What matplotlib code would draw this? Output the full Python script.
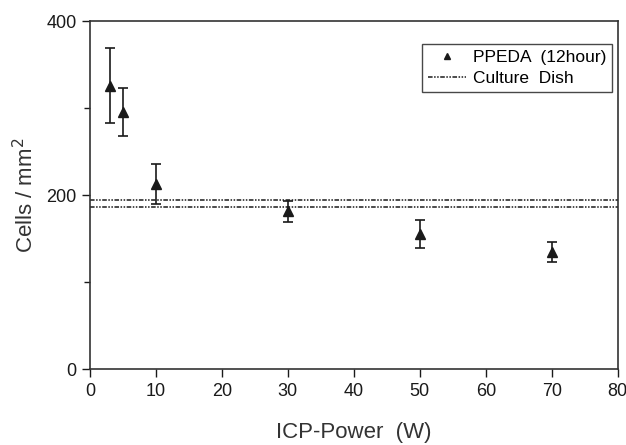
import matplotlib
matplotlib.use("Agg")
import matplotlib.pyplot as plt
from matplotlib.ticker import MultipleLocator

plt.rcParams['font.family'] = ['Liberation Sans', 'DejaVu Sans']

# data
power = [3, 5, 10, 30, 50, 70]
cells = [326, 296, 213, 182, 156, 135]
cells_err = [43, 28, 23, 12, 16, 12]
dish_levels = [195, 187]

ink = '#1a1a1a'

fig = plt.figure(figsize=(6.26, 4.45), dpi=100)
ax = fig.add_axes([0.1438, 0.170, 0.8429, 0.7817])

eb = ax.errorbar(power, cells, yerr=cells_err, fmt='^', color=ink, ms=6.5,
                 ecolor=ink, elinewidth=1.2, capsize=3.5, capthick=1.2)
dish_lines = []
for lev in dish_levels:
    ln = ax.axhline(lev, color=ink, lw=1.1, linestyle=(0, (3, 1, 1, 1, 1, 1)))
    dish_lines.append(ln)

ax.set_xlim(0, 80)
ax.set_ylim(0, 400)
ax.set_xticks(range(0, 81, 10))
ax.set_yticks([0, 200, 400])
ax.yaxis.set_minor_locator(MultipleLocator(100))
ax.tick_params(direction='out', length=6, width=1, colors=ink, labelsize=13)
ax.tick_params(which='minor', direction='out', length=4, width=1, colors=ink)
for s in ax.spines.values():
    s.set_color('#333333')
    s.set_linewidth(1.2)

ax.set_xlabel('ICP-Power  (W)', fontsize=16, color='#333333', labelpad=16)
ax.set_ylabel('Cells / mm$^2$', fontsize=16, color='#333333', labelpad=6)

leg = ax.legend([eb[0], dish_lines[0]], ['PPEDA  (12hour)', 'Culture  Dish'],
                loc='upper right', bbox_to_anchor=(0.99, 0.935),
                fontsize=12.5, frameon=True, fancybox=False,
                edgecolor=ink, handlelength=2.2, handletextpad=0.4,
                borderaxespad=0.0, borderpad=0.35, labelspacing=0.3,
                markerscale=0.75, numpoints=1)
leg.get_frame().set_linewidth(1.0)

fig.savefig('out.png', dpi=100)
